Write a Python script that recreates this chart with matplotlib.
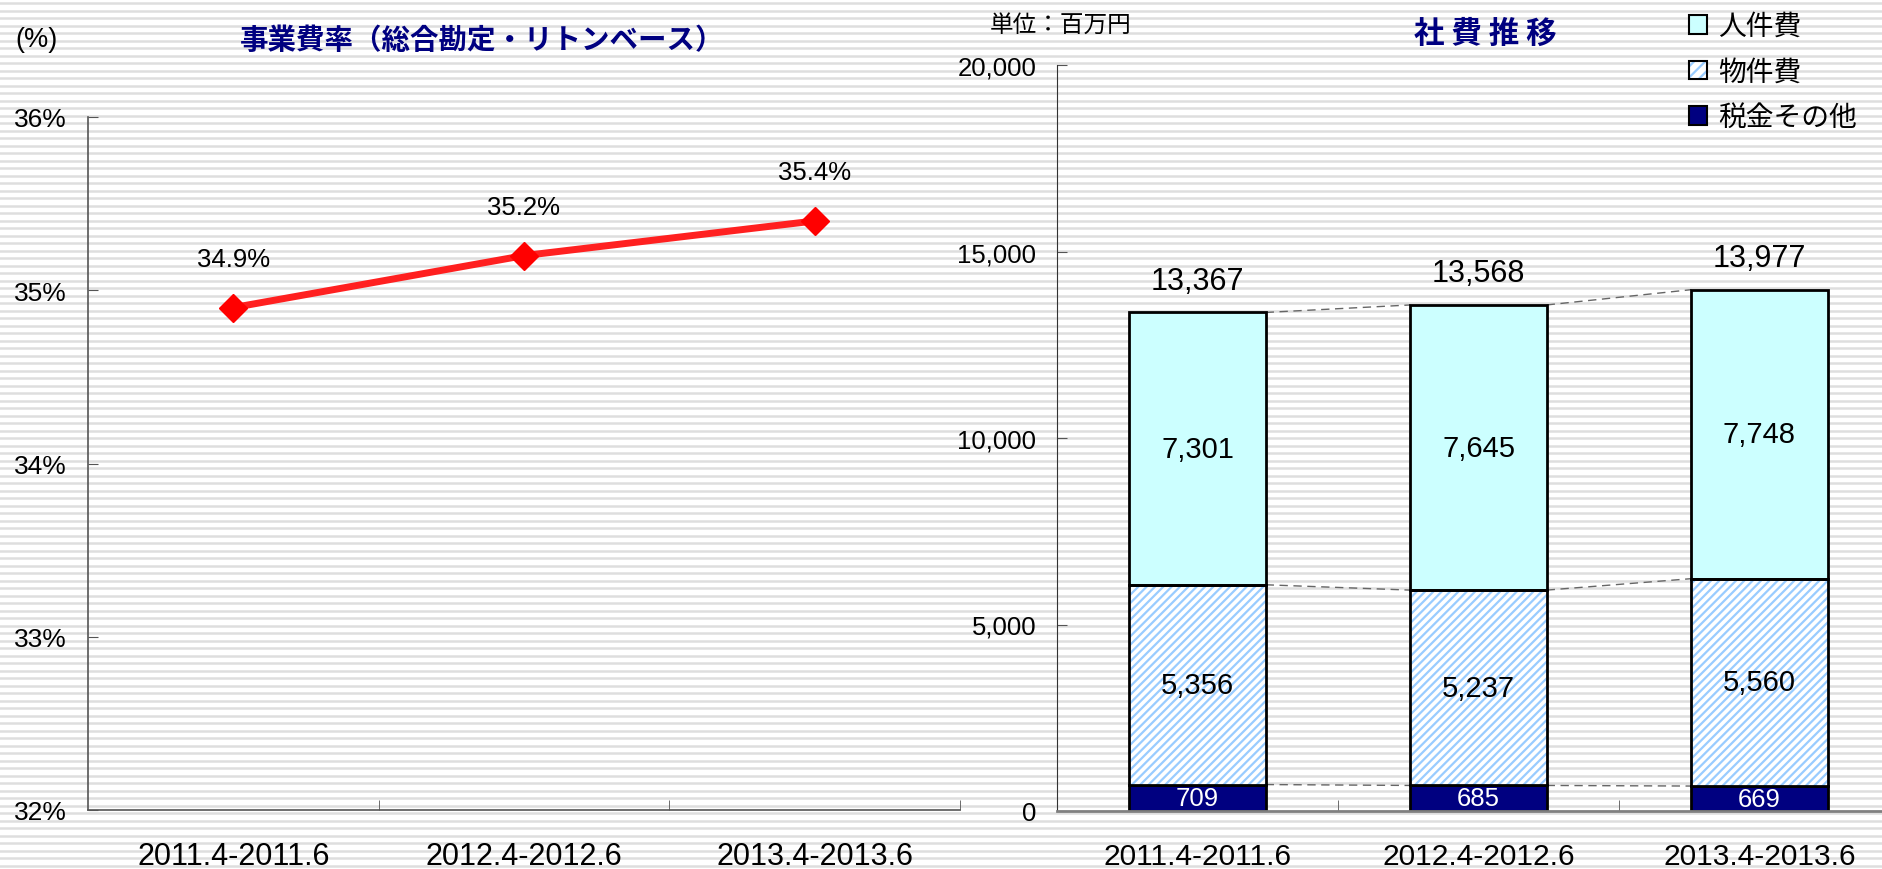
import numpy as np
import matplotlib
matplotlib.use("Agg")
import matplotlib.pyplot as plt
from matplotlib.patches import Patch
from matplotlib.legend_handler import HandlerTuple
from matplotlib.ticker import FuncFormatter

plt.rcParams['font.family'] = ['Liberation Sans', 'Noto Sans CJK JP', 'DejaVu Sans']
plt.rcParams['hatch.linewidth'] = 1.6
JP = ['Noto Sans CJK JP', 'DejaVu Sans']

# data
periods = ["2011.4-2011.6", "2012.4-2012.6", "2013.4-2013.6"]
expense_ratio = [34.9, 35.2, 35.4]
personnel = [7301, 7645, 7748]      # 人件費
property_cost = [5356, 5237, 5560]  # 物件費
tax_other = [709, 685, 669]         # 税金その他
totals = [13367, 13568, 13977]

W, H = 1883, 870
fig = plt.figure(figsize=(W / 100, H / 100), dpi=100)

# striped background
bg = fig.add_axes([0, 0, 1, 1], zorder=-10)
bg.set_xlim(0, W)
bg.set_ylim(H, 0)
bg.axis('off')
for yy in np.arange(4, H, 7.5):
    bg.axhline(yy, color='#dedede', lw=1.8)

# ---- left: line chart ----
ax1 = fig.add_axes([88 / W, 1 - 811 / H, 872 / W, 693 / H])
ax1.set_facecolor('none')
x = np.arange(len(periods))
ax1.plot(x, expense_ratio, color='#ff2020', lw=5, marker='D', markersize=14,
         markerfacecolor='#ff0000', markeredgecolor='#ff0000', zorder=3)
for xi, v in zip(x, expense_ratio):
    ax1.annotate(f"{v:.1f}%", (xi, v), xytext=(0, 35), textcoords='offset points',
                 ha='center', va='center', fontsize=18.5)
ax1.set_xlim(-0.5, 2.5)
ax1.set_ylim(32, 36)
ax1.set_yticks([32, 33, 34, 35, 36])
ax1.yaxis.set_major_formatter(FuncFormatter(lambda v, p: f"{v:.0f}%"))
ax1.set_xticks(x)
ax1.set_xticklabels(periods, fontsize=22)
ax1.set_xticks([0.5, 1.5, 2.5], minor=True)
ax1.tick_params(axis='x', which='major', length=0, pad=22)
ax1.tick_params(axis='x', which='minor', direction='in', length=7, color='#555555')
ax1.tick_params(axis='y', direction='in', length=7, pad=15, labelsize=19, color='#555555')
for s in ['top', 'right']:
    ax1.spines[s].set_visible(False)
for s in ['left', 'bottom']:
    ax1.spines[s].set_color('#555555')
    ax1.spines[s].set_linewidth(1.2)

fig.text(15 / W, 1 - 40 / H, "(%)", fontsize=19.5, va='center', ha='left')
fig.text(482 / W, 1 - 41 / H, "事業費率（総合勘定・リトンベース）", family=JP, fontsize=20.5,
         fontweight='bold', color='#000080', ha='center', va='center')

# ---- right: stacked bars ----
ax2 = fig.add_axes([1057 / W, 1 - 812 / H, 843 / W, 746 / H])
ax2.set_facecolor('none')
bw = 0.485
base2 = np.array(tax_other)
base3 = base2 + np.array(property_cost)
tops = base3 + np.array(personnel)

ax2.bar(x, tax_other, bw, color='#000080', edgecolor='black', lw=2, zorder=2)
ax2.bar(x, property_cost, bw, bottom=base2, color='white', edgecolor='#99ccff',
        hatch='////', lw=0, zorder=2)
ax2.bar(x, property_cost, bw, bottom=base2, color='none', edgecolor='black', lw=2, zorder=3)
ax2.bar(x, personnel, bw, bottom=base3, color='#ccffff', edgecolor='black', lw=2, zorder=2)

# series lines between bars
for level in [base2, base3, tops]:
    for i in range(len(x) - 1):
        ax2.plot([x[i] + bw / 2, x[i + 1] - bw / 2], [level[i], level[i + 1]],
                 ls=(0, (6, 4)), color='#666666', lw=1, zorder=1)

for i in range(len(x)):
    ax2.text(x[i], tax_other[i] / 2, f"{tax_other[i]:,}", color='white',
             ha='center', va='center', fontsize=18.5, zorder=4)
    ax2.text(x[i], base2[i] + property_cost[i] / 2, f"{property_cost[i]:,}",
             ha='center', va='center', fontsize=21, zorder=4)
    ax2.text(x[i], base3[i] + personnel[i] / 2, f"{personnel[i]:,}",
             ha='center', va='center', fontsize=21, zorder=4)
    ax2.annotate(f"{totals[i]:,}", (x[i], tops[i]), xytext=(0, 23),
                 textcoords='offset points', ha='center', va='center', fontsize=22)

ax2.set_xlim(-0.5, 2.5)
ax2.set_ylim(0, 20000)
ax2.set_yticks(np.arange(0, 20001, 5000))
ax2.yaxis.set_major_formatter(FuncFormatter(lambda v, p: f"{v:,.0f}"))
ax2.set_xticks(x)
ax2.set_xticklabels(periods, fontsize=21.5)
ax2.set_xticks([0.5, 1.5], minor=True)
ax2.tick_params(axis='x', which='major', length=0, pad=22)
ax2.tick_params(axis='x', which='minor', direction='in', length=8, color='#555555')
ax2.tick_params(axis='y', direction='in', length=7, pad=15, labelsize=18.5, color='#555555')
for s in ['top', 'right']:
    ax2.spines[s].set_visible(False)
ax2.spines['left'].set_color('#333333')
ax2.spines['bottom'].set_color('#808080')
ax2.spines['bottom'].set_linewidth(2)

fig.text(990 / W, 1 - 25 / H, "単位：百万円", family=JP, fontsize=17, ha='left', va='center')
fig.text(1485 / W, 1 - 34 / H, "社 費 推 移", family=JP, fontsize=22, fontweight='bold',
         color='#000080', ha='center', va='center')

h1 = Patch(facecolor='#ccffff', edgecolor='black', lw=1.5)
h2a = Patch(facecolor='white', edgecolor='#99ccff', hatch='///', lw=0)
h2b = Patch(facecolor='none', edgecolor='black', lw=1.5)
h3 = Patch(facecolor='#000080', edgecolor='black', lw=1.5)
fig.legend([h1, (h2a, h2b), h3], ["人件費", "物件費", "税金その他"],
           handler_map={tuple: HandlerTuple(ndivide=1)},
           loc='upper left', bbox_to_anchor=(1689 / W, 1 - 12 / H),
           frameon=False, prop={'family': JP, 'size': 20}, borderpad=0,
           handlelength=0.65, handleheight=0.65, handletextpad=0.4, labelspacing=0.56,
           borderaxespad=0)

fig.savefig("out.png", dpi=100)
